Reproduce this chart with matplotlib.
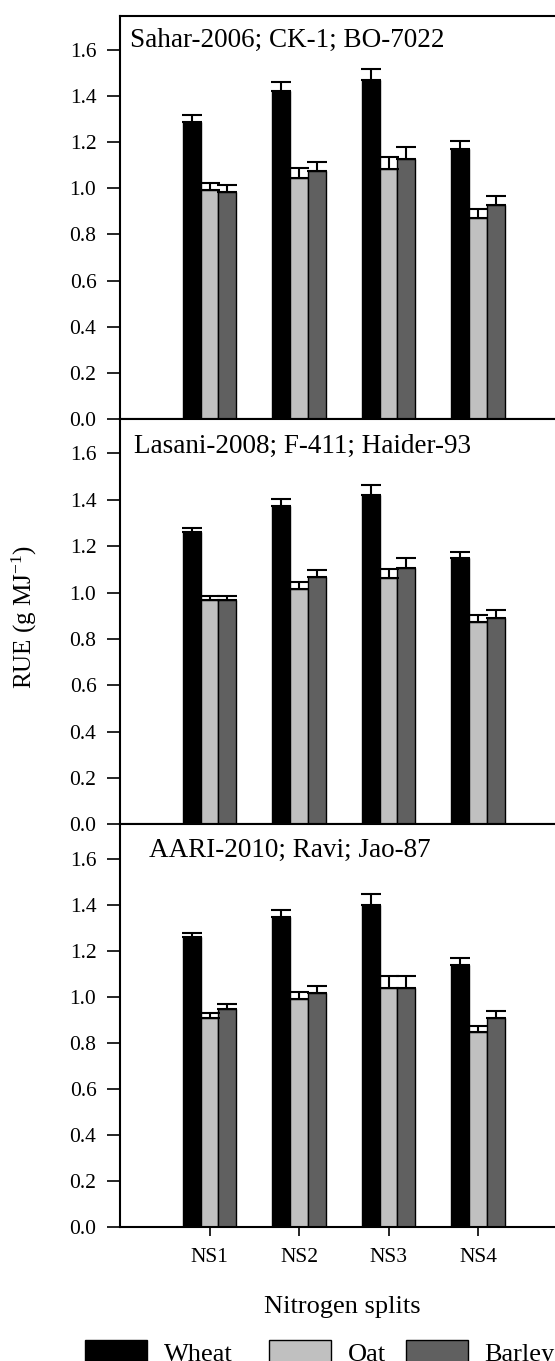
import matplotlib
matplotlib.use("Agg")
import matplotlib.pyplot as plt
from matplotlib.patches import Patch
import numpy as np

plt.rcParams['font.family'] = ['Liberation Serif', 'DejaVu Serif']
plt.rcParams['mathtext.fontset'] = 'custom'
plt.rcParams['mathtext.rm'] = 'Liberation Serif'
plt.rcParams['mathtext.it'] = 'Liberation Serif:italic'

categories = ["NS1", "NS2", "NS3", "NS4"]
series = ["Wheat", "Oat", "Barley"]
panel_titles = ["Sahar-2006; CK-1; BO-7022",
                "Lasani-2008; F-411; Haider-93",
                "AARI-2010; Ravi; Jao-87"]
yticks = [0.0, 0.2, 0.4, 0.6, 0.8, 1.0, 1.2, 1.4, 1.6]

# Panel 1: Sahar-2006; CK-1; BO-7022
p1_wheat = [1.290, 1.424, 1.470, 1.170]
p1_wheat_err = [0.027, 0.040, 0.048, 0.037]
p1_oat = [0.993, 1.047, 1.085, 0.873]
p1_oat_err = [0.030, 0.042, 0.050, 0.038]
p1_barley = [0.983, 1.077, 1.129, 0.927]
p1_barley_err = [0.030, 0.038, 0.052, 0.040]

# Panel 2: Lasani-2008; F-411; Haider-93
p2_wheat = [1.260, 1.373, 1.422, 1.148]
p2_wheat_err = [0.018, 0.030, 0.040, 0.026]
p2_oat = [0.966, 1.016, 1.062, 0.873]
p2_oat_err = [0.020, 0.030, 0.038, 0.030]
p2_barley = [0.966, 1.068, 1.107, 0.892]
p2_barley_err = [0.020, 0.030, 0.040, 0.032]

# Panel 3: AARI-2010; Ravi; Jao-87
p3_wheat = [1.258, 1.349, 1.401, 1.139]
p3_wheat_err = [0.018, 0.028, 0.047, 0.029]
p3_oat = [0.909, 0.991, 1.038, 0.846]
p3_oat_err = [0.021, 0.030, 0.051, 0.029]
p3_barley = [0.948, 1.015, 1.038, 0.909]
p3_barley_err = [0.020, 0.030, 0.051, 0.030]

panels = [
    [(p1_wheat, p1_wheat_err), (p1_oat, p1_oat_err), (p1_barley, p1_barley_err)],
    [(p2_wheat, p2_wheat_err), (p2_oat, p2_oat_err), (p2_barley, p2_barley_err)],
    [(p3_wheat, p3_wheat_err), (p3_oat, p3_oat_err), (p3_barley, p3_barley_err)],
]

colors = ["#000000", "#c0c0c0", "#606060"]
W, H = 555, 1361
fig = plt.figure(figsize=(W / 100, H / 100), dpi=100)

# axes boxes in pixels (top, bottom)
boxes = [(15.7, 418.7), (418.7, 824.3), (824.3, 1226.7)]
left_px = 120.0
unit_px = 89.5
xmax = 5.0
title_pos = [(130, 46.7), (134.5, 452.7), (148.7, 857.0)]

x = np.arange(1, len(categories) + 1)
bw = 0.2
offsets = [-bw, 0.0, bw]

axes = []
for i, (top, bot) in enumerate(boxes):
    ax = fig.add_axes([left_px / W, 1 - bot / H, xmax * unit_px / W, (bot - top) / H])
    axes.append(ax)
    for j, (vals, errs) in enumerate(panels[i]):
        ax.bar(x + offsets[j], vals, width=bw, color=colors[j], edgecolor="black",
               linewidth=1.0, zorder=2)
        ax.errorbar(x + offsets[j], vals, yerr=[np.zeros(len(errs)), errs], fmt="none",
                    ecolor="black", elinewidth=1.5, capsize=7, capthick=1.5, zorder=3)
    ax.set_xlim(0, xmax)
    ax.set_ylim(0, 1.75)
    ax.set_yticks(yticks)
    ax.set_yticklabels([f"{v:.1f}" for v in yticks])
    ax.tick_params(axis="y", direction="out", length=9.5, width=1.2, pad=7.5, labelsize=15.5)
    for s in ax.spines.values():
        s.set_linewidth(1.5)
    tx, ty = title_pos[i]
    fig.text(tx / W, 1 - ty / H, panel_titles[i], fontsize=19.5, ha="left", va="baseline")
    if i < 2:
        ax.tick_params(axis="x", bottom=False, labelbottom=False)
    else:
        ax.set_xticks(x)
        ax.set_xticklabels(categories)
        ax.tick_params(axis="x", direction="out", length=6.5, width=1.2, pad=8.5, labelsize=15.5)

fig.text(24 / W, 1 - 617 / H, "RUE (g MJ$^{\\mathrm{-1}}$)", fontsize=18,
         rotation=90, ha="center", va="center")
fig.text(342 / W, 1 - 1313.3 / H, "Nitrogen splits", fontsize=19, ha="center", va="baseline")

leg_x = [85, 269.3, 405.7]
for j, name in enumerate(series):
    h = Patch(facecolor=colors[j], edgecolor="black", linewidth=1.0)
    fig.legend([h], [name], loc="upper left", bbox_to_anchor=(leg_x[j] / W, 1 - 1340 / H),
               frameon=False, fontsize=19, handlelength=2.35, handleheight=1.0,
               handletextpad=0.63, borderpad=0, borderaxespad=0)

fig.savefig("out.png", dpi=100)
